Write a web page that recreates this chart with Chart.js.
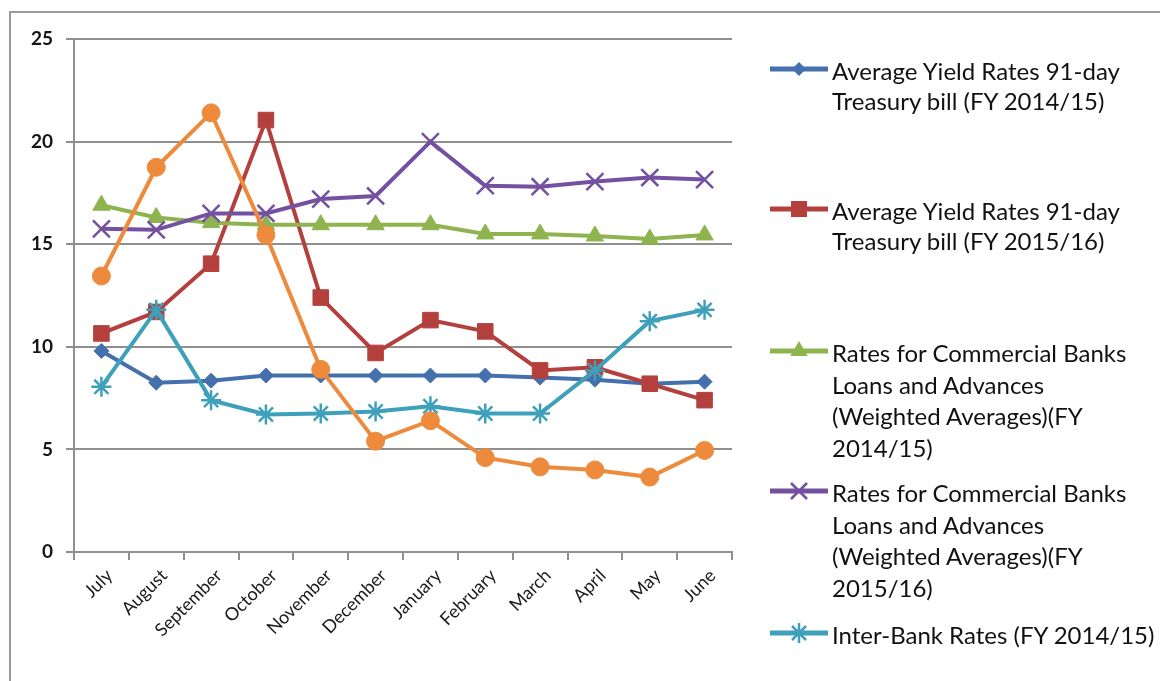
<!DOCTYPE html>
<html>
<head>
<meta charset="utf-8">
<script src="https://cdn.jsdelivr.net/npm/chart.js@4/dist/chart.umd.min.js"></script>
<style>
  html, body { margin: 0; padding: 0; background: #fff; width: 1160px; height: 681px; overflow: hidden; }
  #wrap { position: relative; width: 1160px; height: 681px; }
  #frame { position: absolute; left: 9px; top: 11px; width: 1200px; height: 720px; border: 2px solid #9a9a9a; box-sizing: border-box; }
  canvas { position: absolute; left: 0; top: 0; }
  .leg { position: absolute; left: 770px; font-family: Lato, "Open Sans", sans-serif; font-size: 24px; color: #111; }
  .leg svg { position: absolute; left: 0; }
  .leg .txt { position: absolute; left: 62px; top: 0; white-space: nowrap; }
</style>
</head>
<body>
<div id="wrap">
  <div id="frame"></div>
  <canvas id="c" width="1160" height="681"></canvas>
  <div id="legend"></div>
</div>
<script>
const categories = ["July","August","September","October","November","December","January","February","March","April","May","June"];

const tbill1415 = [9.8, 8.25, 8.35, 8.6, 8.6, 8.6, 8.6, 8.6, 8.5, 8.4, 8.2, 8.3];
const tbill1516 = [10.65, 11.7, 14.05, 21.05, 12.4, 9.7, 11.3, 10.75, 8.85, 9.0, 8.2, 7.4];
const loans1415 = [16.9, 16.3, 16.05, 15.95, 15.95, 15.95, 15.95, 15.5, 15.5, 15.4, 15.25, 15.45];
const loans1516 = [15.75, 15.7, 16.5, 16.5, 17.2, 17.35, 20.0, 17.85, 17.8, 18.05, 18.25, 18.15];
const interbank1415 = [8.05, 11.8, 7.4, 6.7, 6.75, 6.85, 7.1, 6.75, 6.75, 8.85, 11.25, 11.8];
const interbank1516 = [13.45, 18.75, 21.4, 15.45, 8.9, 5.4, 6.4, 4.6, 4.15, 4.0, 3.65, 4.95];

const seriesLabels = [
  "Average Yield Rates 91-day Treasury bill (FY 2014/15)",
  "Average Yield Rates 91-day Treasury bill (FY 2015/16)",
  "Rates for Commercial Banks Loans and Advances (Weighted Averages)(FY 2014/15)",
  "Rates for Commercial Banks Loans and Advances (Weighted Averages)(FY 2015/16)",
  "Inter-Bank Rates (FY 2014/15)",
  "Inter-Bank Rates (FY 2015/16)"
];
const legendLines = [
  ["Average Yield Rates 91-day", "Treasury bill (FY 2014/15)"],
  ["Average Yield Rates 91-day", "Treasury bill (FY 2015/16)"],
  ["Rates for Commercial Banks", "Loans and Advances", "(Weighted Averages)(FY", "2014/15)"],
  ["Rates for Commercial Banks", "Loans and Advances", "(Weighted Averages)(FY", "2015/16)"],
  ["Inter-Bank Rates (FY 2014/15)"]
];
const yTicks = [0, 5, 10, 15, 20, 25];

const colors = ["#4470AE", "#B3403D", "#8DB44E", "#7450A0", "#3EA0BA", "#ED8A3C"];
const styles = ["rectRot", "rect", "triangle", "crossRot", "star", "circle"];
const radii = [7.5, 11, 10, 12, 10, 9];
const values = [tbill1415, tbill1516, loans1415, loans1516, interbank1415, interbank1516];

const datasets = values.map((v, i) => ({
  label: seriesLabels[i],
  data: v,
  borderColor: colors[i],
  backgroundColor: colors[i],
  borderWidth: 4,
  pointStyle: styles[i],
  pointRadius: radii[i],
  pointBorderWidth: (styles[i] === "crossRot" || styles[i] === "star") ? 2.5 : 1,
  pointBorderColor: colors[i],
  pointBackgroundColor: colors[i],
  tension: 0,
  order: values.length - i
}));

new Chart(document.getElementById("c"), {
  type: "line",
  data: { labels: categories, datasets },
  options: {
    responsive: false,
    animation: false,
    layout: { padding: { top: 39, right: 428, left: 0, bottom: 0 } },
    plugins: { legend: { display: false }, tooltip: { enabled: false } },
    scales: {
      x: {
        offset: true,
        grid: { offset: true, drawOnChartArea: false, drawTicks: true, tickLength: 8, color: "#8f8f8f", lineWidth: 2 },
        border: { display: true, color: "#8f8f8f", width: 2 },
        ticks: { autoSkip: false, maxRotation: 45, minRotation: 45, padding: 5, labelOffset: 8, color: "#1a1a1a", font: { family: "Lato", size: 18 } },
        afterFit: (s) => { s.height = 129; }
      },
      y: {
        min: 0, max: 25,
        afterBuildTicks: (s) => { s.ticks = yTicks.map(v => ({ value: v })); },
        grid: { color: "#8f8f8f", lineWidth: 2, tickLength: 8 },
        border: { display: true, color: "#8f8f8f", width: 2 },
        ticks: { padding: 13, color: "#151515", font: { family: "Lato", size: 19, weight: "bold" } },
        afterFit: (s) => { s.width = 74; }
      }
    }
  }
});

// HTML legend (first five series; the sixth is cut off in the reference)
const legTops = [56, 196, 337, 477, 619];
const legLH = [30, 30, 31.5, 31.5, 31];
function markerSvg(i, top) {
  const c = colors[i], cx = 29, cy = 12;
  let m = "";
  switch (styles[i]) {
    case "rectRot": m = `<polygon points="${cx-7},${cy} ${cx},${cy-7} ${cx+7},${cy} ${cx},${cy+7}" fill="${c}"/>`; break;
    case "rect": m = `<rect x="${cx-8}" y="${cy-8}" width="16" height="16" fill="${c}"/>`; break;
    case "triangle": m = `<polygon points="${cx},${cy-10} ${cx+8.7},${cy+5} ${cx-8.7},${cy+5}" fill="${c}"/>`; break;
    case "crossRot": m = `<path d="M${cx-8} ${cy-8} L${cx+8} ${cy+8} M${cx-8} ${cy+8} L${cx+8} ${cy-8}" stroke="${c}" stroke-width="2.5"/>`; break;
    case "star": m = `<path d="M${cx-7} ${cy-7} L${cx+7} ${cy+7} M${cx-7} ${cy+7} L${cx+7} ${cy-7} M${cx} ${cy-10} L${cx} ${cy+10} M${cx-10} ${cy} L${cx+10} ${cy}" stroke="${c}" stroke-width="2.5"/>`; break;
    case "circle": m = `<circle cx="${cx}" cy="${cy}" r="9" fill="${c}"/>`; break;
  }
  return `<svg width="60" height="24" style="top:${top}px"><line x1="0" y1="${cy}" x2="58" y2="${cy}" stroke="${c}" stroke-width="5"/>${m}</svg>`;
}
const legEl = document.getElementById("legend");
legendLines.forEach((lines, i) => {
  const d = document.createElement("div");
  d.className = "leg";
  d.style.top = legTops[i] + "px";
  d.style.lineHeight = legLH[i] + "px";
  d.innerHTML = markerSvg(i, legLH[i] / 2 - 14) + `<div class="txt">${lines.join("<br>")}</div>`;
  legEl.appendChild(d);
});
</script>
</body>
</html>
